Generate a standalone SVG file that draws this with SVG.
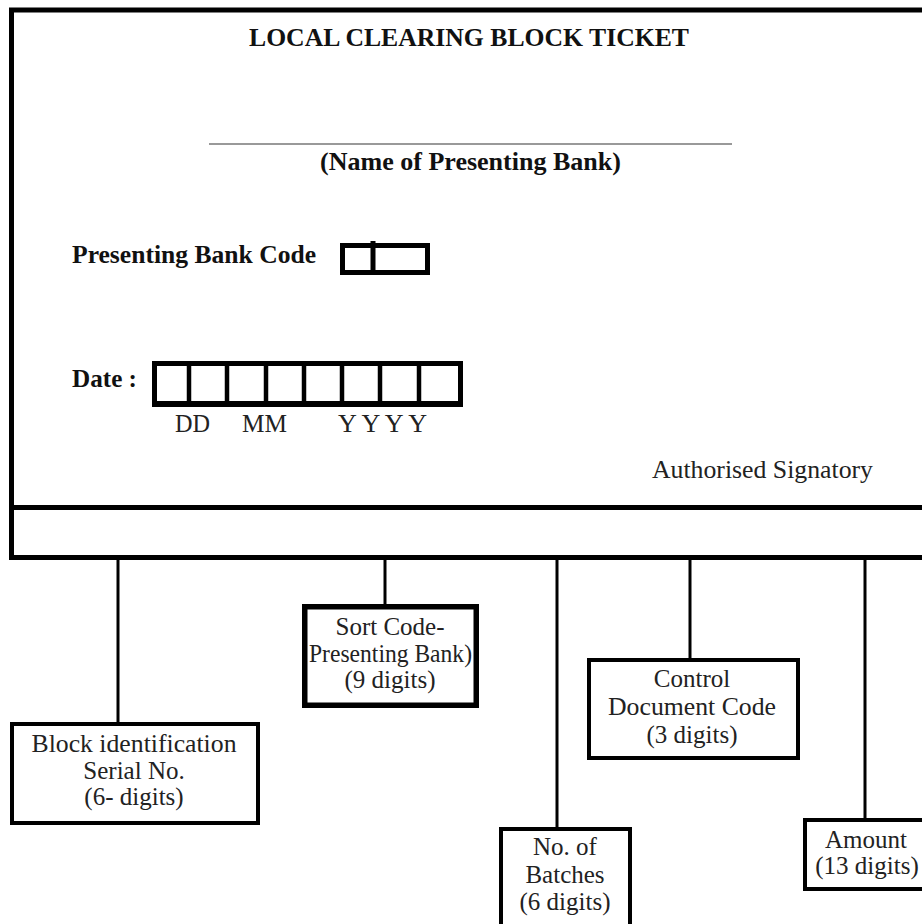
<svg xmlns="http://www.w3.org/2000/svg" width="922" height="924" viewBox="0 0 922 924">
<style>
.b{font-family:"Liberation Serif","Times New Roman",serif;font-weight:bold;font-size:25px;fill:#111}
.r{font-family:"Liberation Serif","Times New Roman",serif;font-size:25px;fill:#222}
.m{text-anchor:middle}
.box{fill:#fff;stroke:#000;stroke-width:4}
.con{stroke:#000;stroke-width:3;fill:none}
.thick{fill:none;stroke:#000;stroke-width:5}
</style>
<rect width="922" height="924" fill="#fff"/>
<g id="ticket">
  <path class="thick" d="M930 10 H11.5 V557.5 H930"/>
  <line x1="11.5" y1="507.5" x2="930" y2="507.5" stroke="#000" stroke-width="5"/>
  <text class="b m" x="469" y="46" textLength="440" lengthAdjust="spacingAndGlyphs">LOCAL CLEARING BLOCK TICKET</text>
  <line x1="209" y1="144" x2="732" y2="144" stroke="#777" stroke-width="1.5"/>
  <text class="b" x="320" y="170" textLength="301" lengthAdjust="spacingAndGlyphs">(Name of Presenting Bank)</text>
  <text class="b" x="72" y="263" textLength="244" lengthAdjust="spacingAndGlyphs">Presenting Bank Code</text>
  <rect class="thick" x="342.5" y="245.5" width="85" height="27"/>
  <line x1="373" y1="241" x2="373" y2="273" stroke="#000" stroke-width="5"/>
  <text class="b" x="72" y="387" textLength="65" lengthAdjust="spacingAndGlyphs">Date :</text>
  <rect class="thick" x="154.5" y="363.5" width="306" height="41"/>
  <line x1="152" y1="404" x2="463" y2="404" stroke="#000" stroke-width="6"/>
  <g stroke="#000" stroke-width="4.5">
    <line x1="189" y1="363" x2="189" y2="405"/>
    <line x1="227" y1="363" x2="227" y2="405"/>
    <line x1="266" y1="363" x2="266" y2="405"/>
    <line x1="304" y1="363" x2="304" y2="405"/>
    <line x1="342" y1="363" x2="342" y2="405"/>
    <line x1="380" y1="363" x2="380" y2="405"/>
    <line x1="419" y1="363" x2="419" y2="405"/>
  </g>
  <text class="r" x="175" y="432" textLength="35" lengthAdjust="spacingAndGlyphs">DD</text>
  <text class="r" x="242" y="432" textLength="45" lengthAdjust="spacingAndGlyphs">MM</text>
  <text class="r" x="338" y="432" textLength="89" lengthAdjust="spacingAndGlyphs">Y Y Y Y</text>
  <text class="r" x="652" y="478" textLength="221" lengthAdjust="spacingAndGlyphs">Authorised Signatory</text>
</g>
<g id="connectors">
  <line class="con" x1="118" y1="559" x2="118" y2="723"/>
  <line class="con" x1="385" y1="559" x2="385" y2="605"/>
  <line class="con" x1="557" y1="559" x2="557" y2="828"/>
  <line class="con" x1="690" y1="559" x2="690" y2="659"/>
  <line class="con" x1="865" y1="559" x2="865" y2="819"/>
</g>
<g id="block-id">
  <rect class="box" x="12" y="724" width="246" height="99"/>
  <text class="r m" x="134" y="752" textLength="205" lengthAdjust="spacingAndGlyphs">Block identification</text>
  <text class="r m" x="134" y="779">Serial No.</text>
  <text class="r m" x="134" y="805">(6- digits)</text>
</g>
<g id="sort-code">
  <rect class="box" x="304.75" y="606.75" width="171.5" height="98.5" style="stroke-width:5.5"/>
  <text class="r m" x="390" y="635">Sort Code-</text>
  <text class="r m" x="390.5" y="662" textLength="163" lengthAdjust="spacingAndGlyphs">Presenting Bank)</text>
  <text class="r m" x="390" y="688">(9 digits)</text>
</g>
<g id="control-doc">
  <rect class="box" x="589" y="660" width="209" height="98"/>
  <text class="r m" x="692" y="687">Control</text>
  <text class="r m" x="692" y="715" textLength="168" lengthAdjust="spacingAndGlyphs">Document Code</text>
  <text class="r m" x="692" y="743">(3 digits)</text>
</g>
<g id="batches">
  <rect class="box" x="501" y="829" width="129" height="120"/>
  <text class="r m" x="565" y="855">No. of</text>
  <text class="r m" x="565" y="883">Batches</text>
  <text class="r m" x="565" y="910">(6 digits)</text>
</g>
<g id="amount">
  <rect class="box" x="805" y="820" width="140" height="69"/>
  <text class="r m" x="866" y="848">Amount</text>
  <text class="r m" x="867" y="874">(13 digits)</text>
</g>
</svg>
